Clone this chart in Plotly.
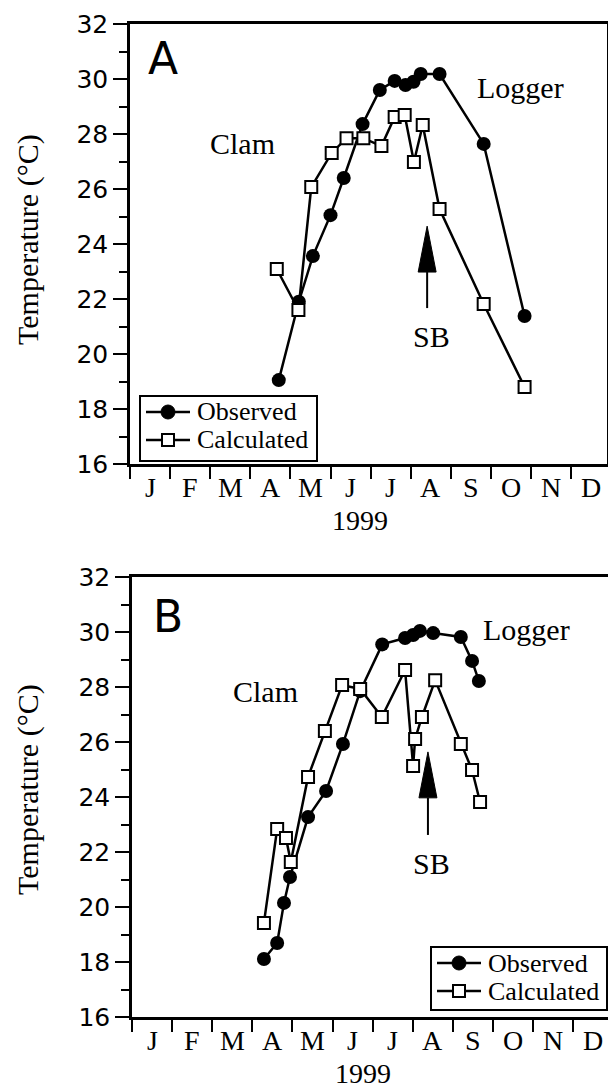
import plotly.graph_objects as go

# ---------------- data ----------------
months = ["J", "F", "M", "A", "M", "J", "J", "A", "S", "O", "N", "D"]
series_names = ["Observed", "Calculated"]

# Panel A (x = months since 1 Jan 1999)
obs_a_month = [3.71, 4.21, 4.56, 5.00, 5.33, 5.80, 6.23, 6.60, 6.87, 7.07, 7.25, 7.72, 8.82, 9.84]
obs_a_temp = [19.05, 21.9, 23.56, 25.05, 26.4, 28.36, 29.6, 29.93, 29.78, 29.9, 30.18, 30.18, 27.64, 21.38]
calc_a_month = [3.66, 4.20, 4.52, 5.03, 5.40, 5.82, 6.27, 6.60, 6.85, 7.08, 7.30, 7.72, 8.82, 9.84]
calc_a_temp = [23.09, 21.6, 26.07, 27.31, 27.85, 27.85, 27.56, 28.62, 28.69, 26.98, 28.33, 25.27, 21.82, 18.8]

# Panel B
obs_b_month = [3.29, 3.62, 3.79, 3.94, 4.39, 4.84, 5.26, 5.69, 6.24, 6.81, 7.01, 7.18, 7.51, 8.20, 8.48, 8.65]
obs_b_temp = [18.11, 18.69, 20.15, 21.09, 23.27, 24.22, 25.93, 27.85, 29.55, 29.78, 29.89, 30.04, 29.96, 29.82, 28.95, 28.22]
calc_b_month = [3.29, 3.62, 3.84, 3.96, 4.39, 4.81, 5.24, 5.69, 6.23, 6.81, 7.01, 7.06, 7.23, 7.56, 8.20, 8.48, 8.68]
calc_b_temp = [19.42, 22.84, 22.51, 21.64, 24.73, 26.4, 28.07, 27.93, 26.91, 28.62, 25.13, 26.11, 26.91, 28.25, 25.93, 24.98, 23.82]

# SB arrows (month, tail temp, tip temp)
sb_a = (7.41, 21.67, 24.65)
sb_b = (7.38, 22.62, 25.64)

# ---------------- styling ----------------
W, H = 608, 1089
SERIF = "Liberation Serif"
SANS = "DejaVu Sans"
PX_PER_MONTH = 40.1


def px_x(p):
    return p / W


def px_y(p):
    return 1 - p / H


fig = go.Figure()

line = dict(color="black", width=2.5)
obs_marker = dict(symbol="circle", size=14, color="black")
calc_marker = dict(symbol="square", size=12, color="white", line=dict(color="black", width=2))

for xs, ys, mk, name, xa, ya in (
    (obs_a_month, obs_a_temp, obs_marker, series_names[0], "x", "y"),
    (calc_a_month, calc_a_temp, calc_marker, series_names[1], "x", "y"),
    (obs_b_month, obs_b_temp, obs_marker, series_names[0], "x2", "y2"),
    (calc_b_month, calc_b_temp, calc_marker, series_names[1], "x2", "y2"),
):
    fig.add_trace(go.Scatter(x=xs, y=ys, mode="lines+markers", name=name, showlegend=False,
                             line=line, marker=mk, xaxis=xa, yaxis=ya, cliponaxis=False))


def xaxis_cfg(left_px, right_px, anchor):
    return dict(
        domain=[px_x(left_px), px_x(right_px)],
        range=[0, (right_px - left_px) / PX_PER_MONTH],
        anchor=anchor, automargin=False,
        showline=True, linecolor="black", linewidth=2.5, mirror=True,
        showgrid=False, zeroline=False,
        tickmode="array", tickvals=list(range(12)), showticklabels=False,
        ticks="outside", ticklen=12, tickwidth=2, tickcolor="black",
    )


def yaxis_cfg(top_px, bottom_px, anchor, mirror):
    return dict(
        domain=[px_y(bottom_px), px_y(top_px)],
        range=[16, 32],
        anchor=anchor, automargin=False,
        showline=True, linecolor="black", linewidth=2.5, mirror=mirror,
        showgrid=False, zeroline=False,
        tickmode="linear", tick0=16, dtick=2,
        ticks="outside", ticklen=14, tickwidth=2, tickcolor="black",
        tickfont=dict(family=SANS, size=25, color="black"),
        minor=dict(dtick=1, ticks="outside", ticklen=8, tickwidth=2, tickcolor="black", showgrid=False),
    )


fig.update_layout(
    width=W, height=H,
    margin=dict(l=0, r=0, t=0, b=0, autoexpand=False),
    paper_bgcolor="white", plot_bgcolor="white",
    showlegend=False,
    xaxis=xaxis_cfg(130, 607, "y"),
    yaxis=yaxis_cfg(24, 464, "x", True),
    xaxis2=xaxis_cfg(132, 608, "y2"),
    yaxis2=yaxis_cfg(577, 1017, "x2", False),
)

annotations = []
shapes = []
center = dict(xanchor="center", yanchor="middle", showarrow=False)

# month labels (centred in each month)
for xr, yr in (("x", "y domain"), ("x2", "y2 domain")):
    for i, mname in enumerate(months):
        annotations.append(dict(text=mname, x=i + 0.5, y=0, xref=xr, yref=yr,
                                xanchor="center", yanchor="top", yshift=-6, showarrow=False,
                                font=dict(family=SERIF, size=28, color="black")))

# panel letters
annotations.append(dict(text="A", x=px_x(163), y=px_y(58), xref="paper", yref="paper",
                        font=dict(family=SANS, size=44, color="black"), **center))
annotations.append(dict(text="B", x=px_x(168), y=px_y(616), xref="paper", yref="paper",
                        font=dict(family=SANS, size=44, color="black"), **center))
# axis titles
for yc in (240, 790):
    annotations.append(dict(text="Temperature (°C)", x=px_x(28), y=px_y(yc), xref="paper", yref="paper",
                            textangle=-90, font=dict(family=SERIF, size=30, color="black"), **center))
for xc, yc in ((360, 520), (363, 1073)):
    annotations.append(dict(text="1999", x=px_x(xc), y=px_y(yc), xref="paper", yref="paper",
                            font=dict(family=SERIF, size=28, color="black"), **center))
# labels inside panels
txt = dict(font=dict(family=SERIF, size=30, color="black"), **center)
annotations += [
    dict(text="Clam", x=2.81, y=27.64, xref="x", yref="y", **txt),
    dict(text="Logger", x=9.75, y=29.7, xref="x", yref="y", **txt),
    dict(text="SB", x=7.52, y=20.62, xref="x", yref="y", **txt),
    dict(text="Clam", x=3.34, y=27.85, xref="x2", yref="y2", **txt),
    dict(text="Logger", x=9.83, y=30.1, xref="x2", yref="y2", **txt),
    dict(text="SB", x=7.48, y=21.6, xref="x2", yref="y2", **txt),
]

# SB arrows: shaft + filled head
HEAD_LEN = 1.67    # degC
HEAD_HALF = 0.224  # months
for (m, tail, tip), xr, yr in ((sb_a, "x", "y"), (sb_b, "x2", "y2")):
    base = tip - HEAD_LEN
    shapes.append(dict(type="line", xref=xr, yref=yr, x0=m, x1=m, y0=tail, y1=base,
                       line=dict(color="black", width=2)))
    shapes.append(dict(type="path", xref=xr, yref=yr,
                       path=f"M {m - HEAD_HALF},{base} L {m},{tip} L {m + HEAD_HALF},{base} Z",
                       fillcolor="black", line=dict(color="black", width=1)))

# legends (box in pixel positions: left, top, right, bottom)
legend_boxes = [(140, 396, 317, 461), (431, 947, 607, 1010)]
for (l, t, r, b) in legend_boxes:
    shapes.append(dict(type="rect", xref="paper", yref="paper",
                       x0=px_x(l), x1=px_x(r), y0=px_y(b), y1=px_y(t),
                       fillcolor="white", line=dict(color="black", width=2)))
    rows = [t + 16, t + 44]
    for k, yrow in enumerate(rows):
        shapes.append(dict(type="line", xref="paper", yref="paper",
                           x0=px_x(l + 6), x1=px_x(l + 50), y0=px_y(yrow), y1=px_y(yrow),
                           line=dict(color="black", width=2.5)))
        cx = l + 28
        if k == 0:
            shapes.append(dict(type="circle", xref="paper", yref="paper",
                               x0=px_x(cx - 7), x1=px_x(cx + 7), y0=px_y(yrow + 7), y1=px_y(yrow - 7),
                               fillcolor="black", line=dict(color="black", width=1)))
        else:
            shapes.append(dict(type="rect", xref="paper", yref="paper",
                               x0=px_x(cx - 6), x1=px_x(cx + 6), y0=px_y(yrow + 6), y1=px_y(yrow - 6),
                               fillcolor="white", line=dict(color="black", width=2)))
        annotations.append(dict(text=series_names[k], x=px_x(l + 55), y=px_y(yrow), xref="paper", yref="paper",
                                xanchor="left", yanchor="middle", showarrow=False,
                                font=dict(family=SERIF, size=26, color="black")))

fig.update_layout(annotations=annotations, shapes=shapes)

fig.write_html("out.html", config={"displayModeBar": False},
               post_script="document.body.style.margin='0px';")
